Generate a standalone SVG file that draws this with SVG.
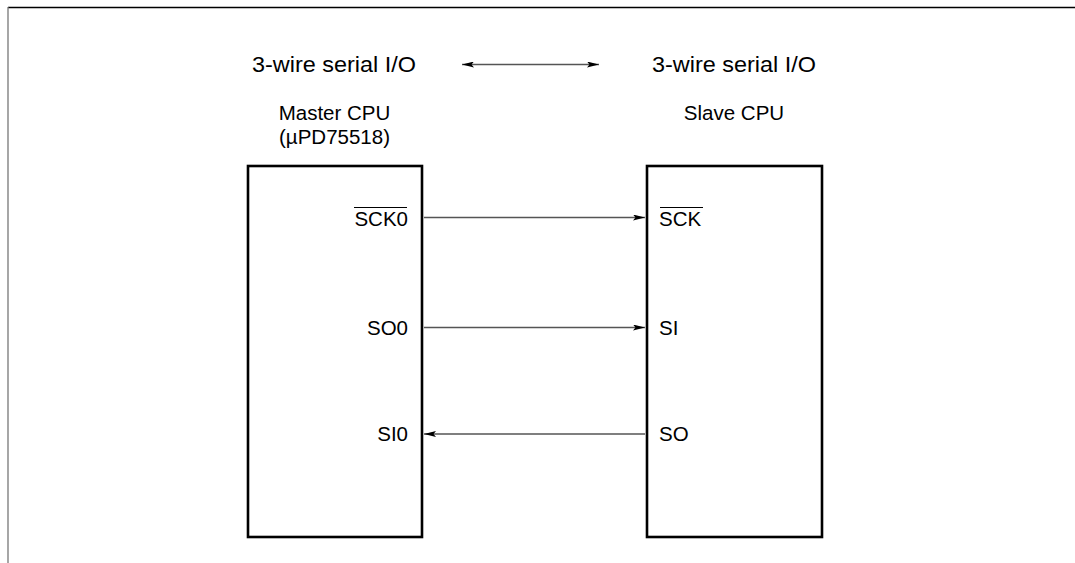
<svg xmlns="http://www.w3.org/2000/svg" width="1075" height="563" viewBox="0 0 1075 563">
<style>
text{font-family:"Liberation Sans",Arial,sans-serif;fill:#000}
.t{font-size:22px}
.n{font-size:20.5px}
.p{font-size:20.5px}
.box{fill:none;stroke:#000;stroke-width:2.6}
.c{stroke:#555;stroke-width:1.3;fill:none}
.ol{stroke:#000;stroke-width:1}
</style>
<defs>
<marker id="ah" viewBox="0 0 12 6" refX="12" refY="3" markerWidth="12" markerHeight="6" markerUnits="userSpaceOnUse" orient="auto-start-reverse">
<path d="M0,0 L12,3 L0,6 L2.5,3 Z" fill="#000"/>
</marker>
</defs>
<g id="frame">
<line x1="8" y1="7.5" x2="1075" y2="7.5" stroke="#000" stroke-width="1.5"/>
<line x1="8" y1="7" x2="8" y2="563" stroke="#777" stroke-width="1.3"/>
</g>
<g id="title">
<text class="t" x="334" y="72" text-anchor="middle" textLength="164" lengthAdjust="spacingAndGlyphs">3-wire serial I/O</text>
<text class="t" x="734" y="72" text-anchor="middle" textLength="164" lengthAdjust="spacingAndGlyphs">3-wire serial I/O</text>
</g>
<g id="master">
<text class="n" x="334.5" y="120" text-anchor="middle">Master CPU</text>
<text class="n" x="334.5" y="144" text-anchor="middle">(µPD75518)</text>
<rect class="box" x="248" y="166" width="174" height="371"/>
<text class="p" x="408" y="226" text-anchor="end">SCK0</text>
<line class="ol" x1="354" y1="207.5" x2="407" y2="207.5"/>
<text class="p" x="408" y="334.5" text-anchor="end">SO0</text>
<text class="p" x="408" y="441" text-anchor="end">SI0</text>
</g>
<g id="slave">
<text class="n" x="734" y="120" text-anchor="middle">Slave CPU</text>
<rect class="box" x="647" y="166" width="175" height="371"/>
<text class="p" x="659" y="226">SCK</text>
<line class="ol" x1="660" y1="207.5" x2="703" y2="207.5"/>
<text class="p" x="659" y="334.5">SI</text>
<text class="p" x="659" y="441">SO</text>
</g>
<g id="connectors">
<line class="c" x1="462" y1="64.5" x2="599" y2="64.5" marker-start="url(#ah)" marker-end="url(#ah)"/>
<line class="c" x1="424" y1="217.5" x2="645" y2="217.5" marker-end="url(#ah)"/>
<line class="c" x1="424" y1="327.5" x2="645" y2="327.5" marker-end="url(#ah)"/>
<line class="c" x1="645" y1="434" x2="424" y2="434" marker-end="url(#ah)"/>
</g>
</svg>
